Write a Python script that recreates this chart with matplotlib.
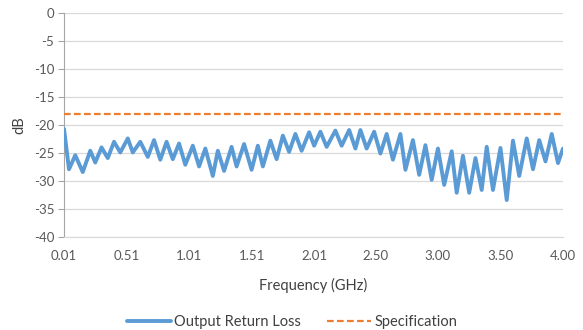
import matplotlib
matplotlib.use("Agg")
import matplotlib.pyplot as plt

freq_ghz = [0.01, 0.05, 0.10, 0.16, 0.22, 0.26, 0.31, 0.36, 0.41, 0.46,
            0.52, 0.56, 0.62, 0.68, 0.73, 0.78, 0.83, 0.88, 0.93, 0.98,
            1.04, 1.09, 1.14, 1.20, 1.24, 1.29, 1.35, 1.39, 1.45, 1.51,
            1.56, 1.60, 1.66, 1.71, 1.76, 1.81, 1.86, 1.91, 1.97, 2.01,
            2.06, 2.11, 2.18, 2.23, 2.29, 2.34, 2.38, 2.43, 2.49, 2.54,
            2.59, 2.64, 2.70, 2.74, 2.80, 2.85, 2.90, 2.95, 3.00, 3.05,
            3.11, 3.15, 3.20, 3.25, 3.30, 3.35, 3.39, 3.44, 3.50, 3.55,
            3.60, 3.65, 3.71, 3.76, 3.81, 3.86, 3.91, 3.96, 4.00]
return_loss_db = [-20.7, -27.9, -25.4, -28.4, -24.6, -26.7, -24.0, -25.9, -23.0, -24.9,
                  -22.4, -24.9, -23.0, -25.7, -22.7, -26.2, -23.0, -26.1, -23.3, -27.1,
                  -23.7, -27.4, -24.2, -29.1, -24.6, -28.2, -23.9, -27.4, -23.4, -28.0,
                  -23.7, -27.4, -22.8, -26.1, -21.9, -24.8, -21.6, -24.6, -21.3, -23.7,
                  -21.2, -23.9, -21.0, -23.7, -20.9, -24.2, -20.9, -24.2, -21.2, -25.1,
                  -21.6, -26.2, -21.6, -28.0, -22.7, -28.9, -23.6, -29.8, -24.2, -30.7,
                  -24.7, -32.1, -25.5, -32.1, -25.9, -31.6, -23.9, -31.6, -24.1, -33.4,
                  -22.8, -29.1, -22.4, -27.9, -22.7, -26.5, -21.6, -26.8, -24.2]
spec_freq_ghz = [0.01, 4.00]
spec_db = [-18, -18]
x_tick_vals = [0.01, 0.51, 1.01, 1.51, 2.01, 2.50, 3.00, 3.50, 4.00]
x_tick_labels = ["0.01", "0.51", "1.01", "1.51", "2.01", "2.50", "3.00", "3.50", "4.00"]
y_ticks = [0, -5, -10, -15, -20, -25, -30, -35, -40]

plt.rcParams['font.family'] = ['Lato', 'DejaVu Sans']
txt = '#595959'

fig = plt.figure(figsize=(5.83, 3.30), dpi=100)
ax = fig.add_axes([64/583, 1-237/330, (563-64)/583, (237-13)/330])

ax.plot(freq_ghz, return_loss_db, color='#5B9BD5', lw=2.8,
        solid_joinstyle='round', solid_capstyle='round', label='Output Return Loss', zorder=3)
ax.plot(spec_freq_ghz, spec_db, color='#ED7D31', lw=1.6, ls=(0, (3, 1.5)),
        label='Specification', zorder=3)

ax.set_xlim(0.01, 4.00)
ax.set_ylim(-40, 0)
ax.set_yticks(y_ticks)
ax.set_yticklabels([str(v) for v in y_ticks])
ax.set_xticks(x_tick_vals)
ax.set_xticklabels(x_tick_labels)
ax.grid(axis='y', color='#D9D9D9', lw=0.9)
ax.set_axisbelow(True)
for s in ['top', 'right']:
    ax.spines[s].set_visible(False)
ax.spines['left'].set_color('#A6A6A6')
ax.spines['bottom'].set_color('#D9D9D9')
ax.tick_params(axis='y', colors='#A6A6A6', labelcolor=txt, labelsize=9.5, length=4, pad=3)
ax.tick_params(axis='x', length=0, labelcolor=txt, labelsize=9.5, pad=9)

ax.set_xlabel('Frequency (GHz)', fontsize=10.5, color='#404040', labelpad=12)
ax.set_ylabel('dB', fontsize=10.5, color='#404040', labelpad=5)

leg = fig.legend(loc='center', bbox_to_anchor=(292/583, 1-322/330), ncol=2, frameon=False,
                 fontsize=10.5, handlelength=3.0, columnspacing=1.85, handletextpad=0.2)
for t in leg.get_texts():
    t.set_color('#404040')

fig.savefig('out.png', dpi=100)
